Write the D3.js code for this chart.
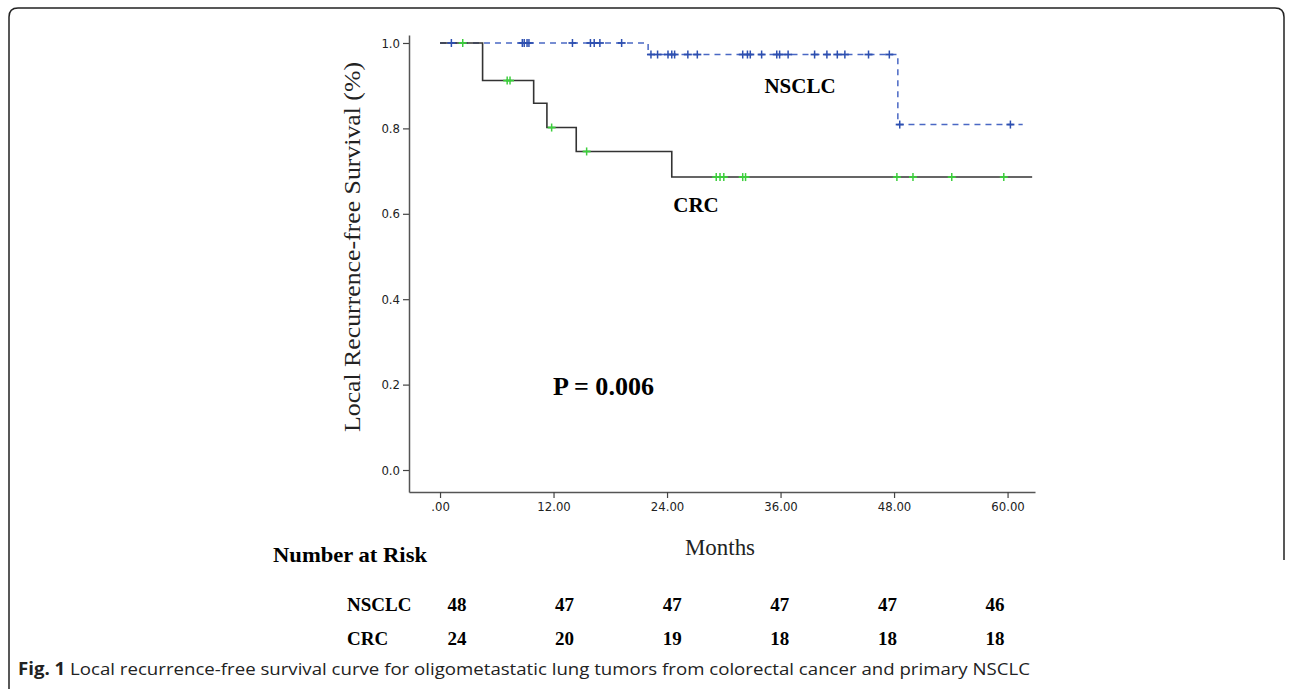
<!DOCTYPE html>
<html>
<head>
<meta charset="utf-8">
<script src="https://cdn.jsdelivr.net/npm/d3@7"></script>
<style>
  body { margin: 0; background: #fff; }
  svg { display: block; }
  .tick text { font-family: "DejaVu Sans Condensed", "Liberation Sans Narrow", "Arial Narrow", sans-serif; font-size: 13px; fill: #222; }
  .tick line { stroke: #444; stroke-width: 1.2; }
  .domain { stroke: #555; stroke-width: 1.5; }
</style>
</head>
<body>
<div id="chart"></div>
<script>
// Kaplan-Meier curves
var nsclcTimes = [0, 22.0, 48.4];
var nsclcSurv = [1.0, 0.973, 0.809];
var nsclcEnd = 61.6;
var nsclcCensor = [1.2, 8.7, 8.9, 9.2, 9.4, 14.0, 15.9, 16.3, 16.9, 19.2,
  22.3, 23.0, 24.1, 24.5, 24.8, 26.2, 27.2, 32.0, 32.5, 32.8, 34.0, 35.6, 35.9,
  36.8, 39.6, 40.9, 42.0, 42.8, 45.3, 47.5, 48.6, 60.3];

var crcTimes = [0, 4.5, 9.9, 11.3, 14.4, 24.5];
var crcSurv = [1.0, 0.912, 0.859, 0.802, 0.746, 0.686];
var crcEnd = 62.6;
var crcCensor = [2.4, 7.1, 7.4, 11.8, 15.5, 29.2, 29.6, 30.0, 32.0, 32.3, 48.3, 50.0, 54.1, 59.6];

// Axes ticks
var monthTicks = [0, 12, 24, 36, 48, 60];
var survTicks = [0, 0.2, 0.4, 0.6, 0.8, 1.0];

// Number at risk table
var riskGroups = ["NSCLC", "CRC"];
var nsclcRisk = [48, 47, 47, 47, 47, 46];
var crcRisk = [24, 20, 19, 18, 18, 18];

var width = 1292;
var height = 689;

var svg = d3.select("#chart")
  .append("svg")
  .attr("width", width)
  .attr("height", height);

// Outer frame
svg.append("path")
  .attr("d", "M9,689 L9,17 Q9,8 18,8 L1275,8 Q1284,8 1284,17 L1284,560")
  .attr("fill", "none")
  .attr("stroke", "#222")
  .attr("stroke-width", 1.5);

// Scales
var xScale = d3.scaleLinear().domain([-3.28, 62.9]).range([409, 1035]);
var yScale = d3.scaleLinear().domain([-0.0515, 1.0187]).range([492, 35]);

var xAxis = d3.axisBottom(xScale)
  .tickValues(monthTicks)
  .tickSize(6)
  .tickSizeOuter(0)
  .tickPadding(4)
  .tickFormat(function(d) { return d === 0 ? ".00" : d.toFixed(2); });

var yAxis = d3.axisLeft(yScale)
  .tickValues(survTicks)
  .tickSize(6)
  .tickSizeOuter(0)
  .tickPadding(3)
  .tickFormat(d3.format(".1f"));

svg.append("g")
  .attr("class", "xAxis")
  .attr("transform", "translate(0,492)")
  .call(xAxis);

svg.append("g")
  .attr("class", "yAxis")
  .attr("transform", "translate(409,0)")
  .call(yAxis);

// Step line helper
function stepPoints(times, surv, end) {
  var pts = [];
  for (var i = 0; i < times.length; i++) {
    pts.push([times[i], surv[i]]);
  }
  pts.push([end, surv[surv.length - 1]]);
  return pts;
}

function survAt(times, surv, t) {
  var s = surv[0];
  for (var i = 0; i < times.length; i++) {
    if (times[i] <= t) s = surv[i];
  }
  return s;
}

var line = d3.line()
  .x(function(d) { return xScale(d[0]); })
  .y(function(d) { return yScale(d[1]); })
  .curve(d3.curveStepAfter);

// NSCLC curve (dashed blue)
svg.append("path")
  .datum(stepPoints(nsclcTimes, nsclcSurv, nsclcEnd))
  .attr("d", line)
  .attr("fill", "none")
  .attr("stroke", "#4a68c4")
  .attr("stroke-width", 1.5)
  .attr("stroke-dasharray", "6,5");

// CRC curve (solid dark)
svg.append("path")
  .datum(stepPoints(crcTimes, crcSurv, crcEnd))
  .attr("d", line)
  .attr("fill", "none")
  .attr("stroke", "#333")
  .attr("stroke-width", 1.6);

// Censor marks
function drawCensor(data, times, surv, color, cls) {
  var g = svg.append("g").attr("class", cls);
  var marks = g.selectAll("g")
    .data(data)
    .enter()
    .append("g")
    .attr("transform", function(d) {
      return "translate(" + xScale(d) + "," + yScale(survAt(times, surv, d)) + ")";
    });
  marks.append("line")
    .attr("x1", 0).attr("x2", 0).attr("y1", -4).attr("y2", 4)
    .attr("stroke", color).attr("stroke-width", 1.5);
  marks.append("line")
    .attr("x1", -4).attr("x2", 4).attr("y1", 0).attr("y2", 0)
    .attr("stroke", color).attr("stroke-width", 1.8);
}

drawCensor(nsclcCensor, nsclcTimes, nsclcSurv, "#2d4fb0", "nsclcCensor");
drawCensor(crcCensor, crcTimes, crcSurv, "#3ccf3c", "crcCensor");

// Curve labels
var serif = "'Liberation Serif', 'Times New Roman', serif";

svg.append("text")
  .attr("x", 800).attr("y", 93)
  .attr("text-anchor", "middle")
  .attr("font-family", serif)
  .attr("font-weight", "bold")
  .attr("font-size", 21)
  .text("NSCLC");

svg.append("text")
  .attr("x", 696).attr("y", 212)
  .attr("text-anchor", "middle")
  .attr("font-family", serif)
  .attr("font-weight", "bold")
  .attr("font-size", 21)
  .text("CRC");

svg.append("text")
  .attr("x", 553).attr("y", 395)
  .attr("font-family", serif)
  .attr("font-weight", "bold")
  .attr("font-size", 25)
  .attr("textLength", 101)
  .attr("lengthAdjust", "spacingAndGlyphs")
  .text("P = 0.006");

// Axis titles
svg.append("text")
  .attr("transform", "translate(360,247) rotate(-90)")
  .attr("text-anchor", "middle")
  .attr("font-family", serif)
  .attr("font-size", 24)
  .attr("fill", "#222")
  .attr("textLength", 370)
  .attr("lengthAdjust", "spacingAndGlyphs")
  .text("Local Recurrence-free Survival (%)");

svg.append("text")
  .attr("x", 720).attr("y", 555)
  .attr("text-anchor", "middle")
  .attr("font-family", serif)
  .attr("font-size", 23)
  .attr("fill", "#222")
  .attr("textLength", 70)
  .attr("lengthAdjust", "spacingAndGlyphs")
  .text("Months");

// Number at risk
svg.append("text")
  .attr("x", 273).attr("y", 562)
  .attr("font-family", serif)
  .attr("font-weight", "bold")
  .attr("font-size", 21)
  .attr("textLength", 154)
  .attr("lengthAdjust", "spacingAndGlyphs")
  .text("Number at  Risk");

var colScale = d3.scalePoint()
  .domain(monthTicks)
  .range([457, 995]);

var rowScale = d3.scalePoint()
  .domain(riskGroups)
  .range([611, 645]);

var riskRows = [nsclcRisk, crcRisk];

riskGroups.forEach(function(name, i) {
  svg.append("text")
    .attr("x", 347).attr("y", rowScale(name))
    .attr("font-family", serif)
    .attr("font-weight", "bold")
    .attr("font-size", 19)
    .text(name);

  svg.append("g")
    .selectAll("text")
    .data(riskRows[i])
    .enter()
    .append("text")
    .attr("x", function(d, j) { return colScale(monthTicks[j]); })
    .attr("y", rowScale(name))
    .attr("text-anchor", "middle")
    .attr("font-family", serif)
    .attr("font-weight", "bold")
    .attr("font-size", 19)
    .text(function(d) { return d; });
});

// Caption
var caption = svg.append("text")
  .attr("x", 18).attr("y", 675)
  .attr("font-family", "'Open Sans', 'Noto Sans', sans-serif")
  .attr("font-size", 17)
  .attr("fill", "#222")
  .attr("textLength", 1012)
  .attr("lengthAdjust", "spacingAndGlyphs");
caption.append("tspan").attr("font-weight", "bold").text("Fig. 1");
caption.append("tspan").text(" Local recurrence-free survival curve for oligometastatic lung tumors from colorectal cancer and primary NSCLC");
</script>
</body>
</html>
